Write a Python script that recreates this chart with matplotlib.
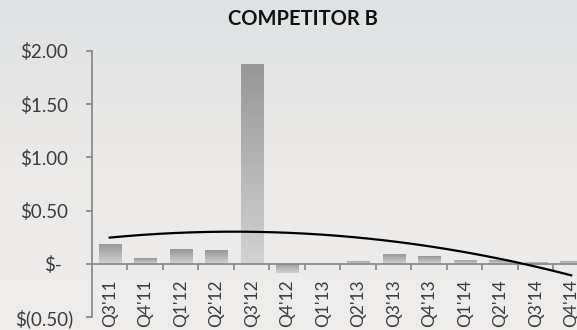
import numpy as np
import matplotlib
matplotlib.use("Agg")
import matplotlib.pyplot as plt
from matplotlib.colors import LinearSegmentedColormap
from matplotlib.transforms import ScaledTranslation

# Quarterly values (USD)
quarters = ["Q3'11", "Q4'11", "Q1'12", "Q2'12", "Q3'12", "Q4'12", "Q1'13",
            "Q2'13", "Q3'13", "Q4'13", "Q1'14", "Q2'14", "Q3'14", "Q4'14"]
values = [0.19, 0.05, 0.14, 0.13, 1.88, -0.09, 0.00,
          0.03, 0.09, 0.07, 0.04, 0.04, 0.02, 0.03]
ytick_values = [-0.5, 0.0, 0.5, 1.0, 1.5, 2.0]
ytick_labels = ["$(0.50)", "$-", "$0.50", "$1.00", "$1.50", "$2.00"]
title = "COMPETITOR B"

FONT = "Lato"
W, H, DPI = 577, 330, 100

fig = plt.figure(figsize=(W / DPI, H / DPI), dpi=DPI)

# soft background gradient (cool grey on top, warm grey at the bottom)
bg = fig.add_axes([0, 0, 1, 1], zorder=-10)
bg_cmap = LinearSegmentedColormap.from_list("bg", ["#dfe2e4", "#eceae8", "#efedeb"])
bg.imshow(np.linspace(0, 1, 256)[:, None], aspect="auto", cmap=bg_cmap,
          extent=[0, 1, 0, 1], origin="upper")
bg.set_axis_off()

ax = fig.add_axes([92 / W, 13 / H, 497 / W, 266 / H])
ax.patch.set_alpha(0)

x = np.arange(1, len(values) + 1)
bar_cmap = LinearSegmentedColormap.from_list("bar", ["#979797", "#d2d2d2"])
bars = ax.bar(x, values, width=0.62, color="none", edgecolor="none", zorder=2)
grad = np.linspace(0, 1, 128)[:, None]
for b, v in zip(bars, values):
    if v == 0:
        continue
    x0, x1 = b.get_x(), b.get_x() + b.get_width()
    top, bottom = max(v, 0), min(v, 0)
    im = ax.imshow(grad, aspect="auto", cmap=bar_cmap, origin="upper",
                   extent=[x0, x1, bottom, top], zorder=2)
    im.set_clip_path(b)

# second-order polynomial trend
coef = np.polyfit(x, values, 2)
xs = np.linspace(x[0], x[-1], 200)
ax.plot(xs, np.polyval(coef, xs), color="black", lw=1.6, zorder=3)

ax.set_xlim(0.5, len(values) + 0.5)
ax.set_ylim(-0.5, 2.0)

axis_color = "#8c8c8c"
for s in ("top", "right"):
    ax.spines[s].set_visible(False)
ax.spines["left"].set_color(axis_color)
ax.spines["bottom"].set_color(axis_color)
ax.spines["left"].set_linewidth(1.3)
ax.spines["bottom"].set_linewidth(1.3)
ax.spines["bottom"].set_position(("data", 0))

ax.set_yticks(ytick_values)
ax.set_yticklabels(ytick_labels, fontfamily=FONT, fontsize=13.5, color="#3c3c3c")
ax.tick_params(axis="y", direction="out", length=4.3, width=1.3, color=axis_color, pad=10)
# accounting-style alignment: digits line up, the closing parenthesis hangs right
for lab, txt in zip(ax.get_yticklabels(), ytick_labels):
    if txt.startswith("$("):
        shift = 1
    elif txt == "$-":
        shift = -10
    else:
        shift = -4
    lab.set_transform(lab.get_transform() + ScaledTranslation(shift / DPI, 0, fig.dpi_scale_trans))

ax.set_xticks(x)
ax.set_xticklabels(quarters, rotation=90, fontfamily=FONT, fontsize=12.5, color="#3c3c3c",
                   va="top", ha="center")
ax.tick_params(axis="x", which="major", length=0, pad=11)
ax.set_xticks(np.arange(1.5, len(values), 1.0), minor=True)
ax.tick_params(axis="x", which="minor", direction="out", length=4.3, width=1.3, color=axis_color)

fig.text(303 / W, 1 - 19 / H, title, ha="center", va="center", fontfamily=FONT,
         fontweight="bold", fontsize=14.5, color="#111111")

fig.savefig("out.png", dpi=DPI)
